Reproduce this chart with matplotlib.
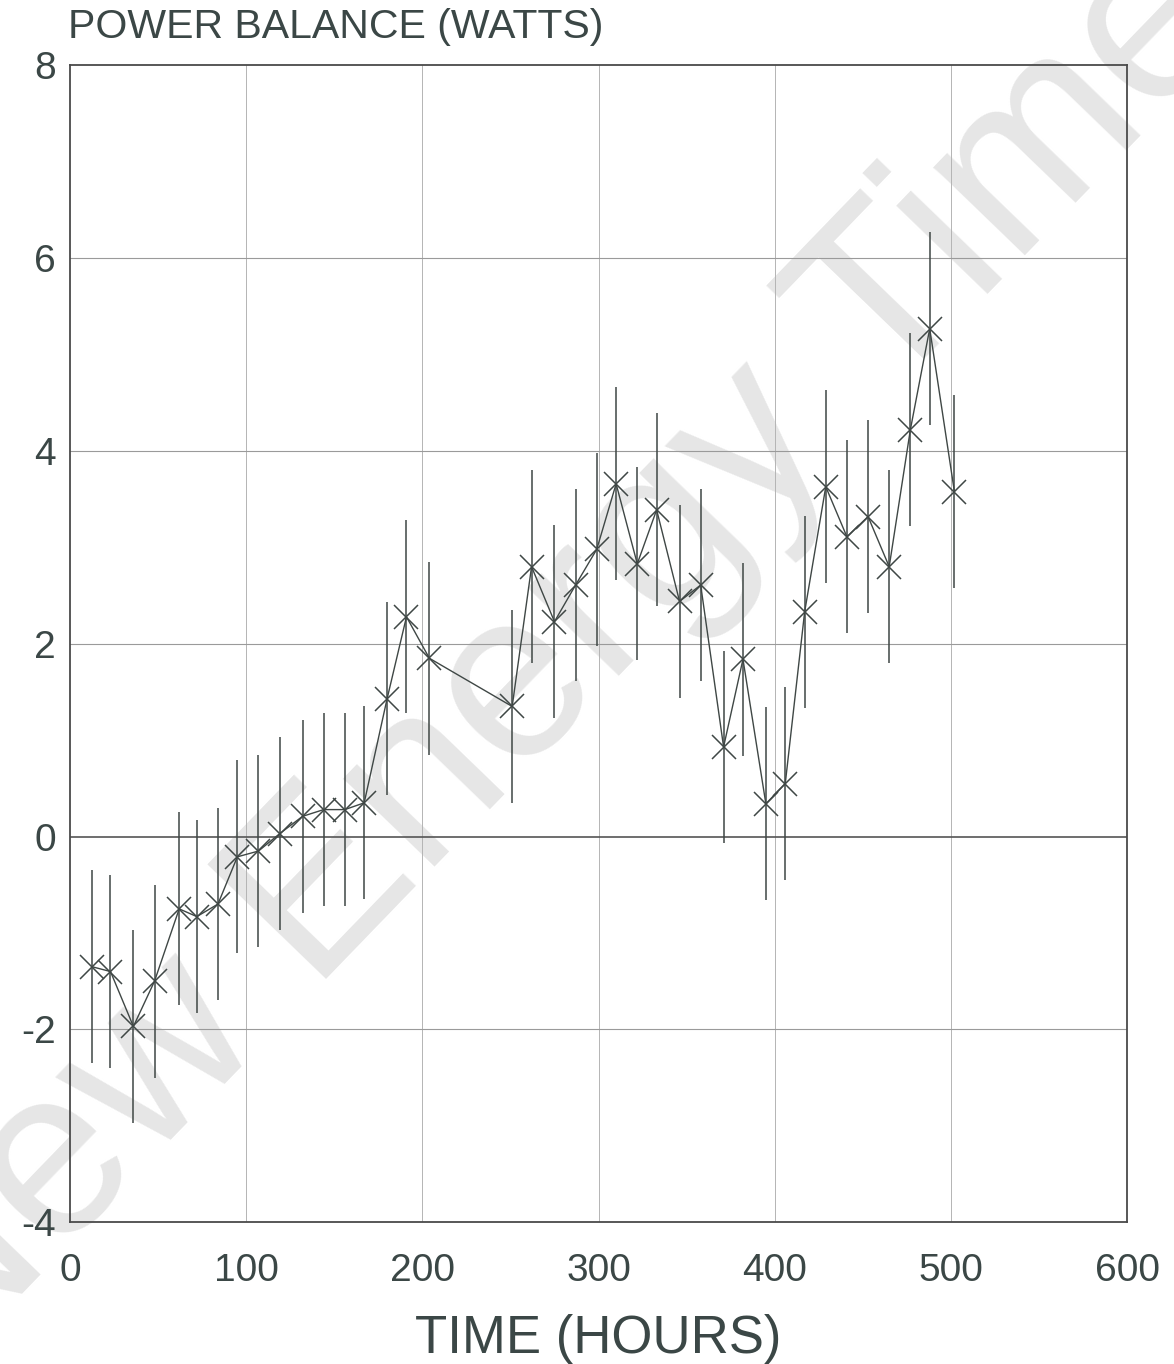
import matplotlib
matplotlib.use('Agg')
import numpy as np
import matplotlib.pyplot as plt

hours = [12.5, 23, 36, 48, 62, 72, 84, 95, 107, 119, 132, 144, 156, 167,
         180, 191, 204, 251, 262, 275, 287, 299, 310, 322, 333, 346, 358,
         371, 382, 395, 406, 417, 429, 441, 453, 465, 477, 488, 502]
power = [-1.35, -1.40, -1.97, -1.50, -0.75, -0.83, -0.70, -0.21, -0.15, 0.03,
         0.21, 0.28, 0.28, 0.35, 1.43, 2.28, 1.85, 1.35, 2.80, 2.23, 2.61,
         2.98, 3.66, 2.83, 3.39, 2.44, 2.61, 0.93, 1.84, 0.34, 0.55, 2.33,
         3.63, 3.11, 3.32, 2.80, 4.22, 5.27, 3.58]
err = [1.0] * len(hours)

xticks = [0, 100, 200, 300, 400, 500, 600]
yticks = [-4, -2, 0, 2, 4, 6, 8]

TXT = '#3b4746'
INK = '#3f4745'

plt.rcParams['font.family'] = ['Liberation Sans', 'DejaVu Sans']
plt.rcParams['axes.unicode_minus'] = False

fig = plt.figure(figsize=(11.74, 13.64), dpi=100)
ax = fig.add_axes([0.0596, 0.104, 0.9004, 0.848])
ax.set_facecolor('none')

# watermark
fig.text(0.50, 0.545, 'New Energy Times', rotation=46, fontsize=172,
         color='#e6e6e6', ha='center', va='center', zorder=-5)

for x in xticks[1:-1]:
    ax.axvline(x, color='#b4b4b4', lw=0.7, zorder=1)
for y in yticks[1:-1]:
    ax.axhline(y, color='#9a9a9a' if y != 0 else '#555555',
               lw=0.8 if y != 0 else 1.2, zorder=1)

ax.errorbar(hours, power, yerr=err, fmt='none', ecolor=INK, elinewidth=1.1,
            capsize=0, zorder=3)
ax.plot(hours, power, color=INK, lw=1.0, marker='x', markersize=17,
        markeredgewidth=1.1, zorder=4)

ax.set_xlim(0, 600)
ax.set_ylim(-4, 8)
ax.set_xticks(xticks)
ax.set_yticks(yticks)
ax.tick_params(length=0, labelsize=28, labelcolor=TXT)
ax.tick_params(axis='x', pad=22)
ax.tick_params(axis='y', pad=10)
for s in ax.spines.values():
    s.set_color('#4a4a4a')
    s.set_linewidth(1.3)

ax.set_xlabel('TIME (HOURS)', fontsize=38, color=TXT, labelpad=18)
fig.text(0.058, 0.966, 'POWER BALANCE (WATTS)', fontsize=29.5, color=TXT,
         fontweight='medium', ha='left', va='bottom')

fig.savefig('out.png', dpi=100)
